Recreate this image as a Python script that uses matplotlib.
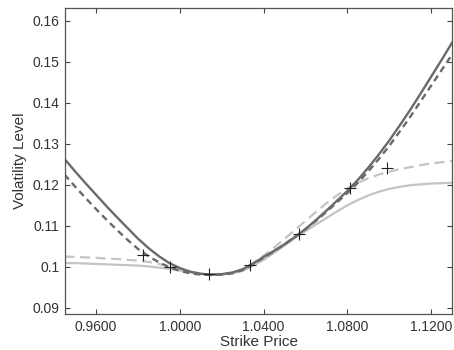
import matplotlib
matplotlib.use("Agg")
import matplotlib.pyplot as plt

plt.rcParams['font.family'] = ['Liberation Sans', 'DejaVu Sans']

# strike grid and curve values
strikes = [0.945, 0.950, 0.955, 0.960, 0.965, 0.970, 0.975, 0.980, 0.985, 0.990,
           0.995, 1.000, 1.005, 1.010, 1.015, 1.020, 1.025, 1.030, 1.035, 1.040,
           1.045, 1.050, 1.055, 1.060, 1.065, 1.070, 1.075, 1.080, 1.085, 1.090,
           1.095, 1.100, 1.105, 1.110, 1.115, 1.120, 1.125, 1.130]

dark_solid = [0.1263, 0.1233, 0.1204, 0.1176, 0.1148, 0.1121, 0.1095, 0.1069, 0.1046, 0.1026,
              0.1009, 0.0997, 0.0988, 0.0983, 0.0981, 0.0982, 0.0986, 0.0994, 0.1008, 0.1024,
              0.1039, 0.1055, 0.1073, 0.1092, 0.1114, 0.1137, 0.1161, 0.1185, 0.1212, 0.1242,
              0.1274, 0.1308, 0.1345, 0.1383, 0.1423, 0.1464, 0.1505, 0.1547]

dark_dashed = [0.1225, 0.1196, 0.1168, 0.1141, 0.1115, 0.1090, 0.1066, 0.1044, 0.1026, 0.1011,
               0.0999, 0.0990, 0.0984, 0.0981, 0.0980, 0.0981, 0.0984, 0.0992, 0.1006, 0.1022,
               0.1038, 0.1055, 0.1073, 0.1092, 0.1112, 0.1134, 0.1157, 0.1180, 0.1205, 0.1233,
               0.1263, 0.1295, 0.1330, 0.1366, 0.1404, 0.1442, 0.1480, 0.1518]

light_solid = [0.1009, 0.1009, 0.1008, 0.1007, 0.1006, 0.1005, 0.1004, 0.1003, 0.1001, 0.0998,
               0.0995, 0.0991, 0.0987, 0.0983, 0.0981, 0.0981, 0.0984, 0.0990, 0.1003, 0.1017,
               0.1034, 0.1052, 0.1070, 0.1087, 0.1103, 0.1119, 0.1135, 0.1150, 0.1163, 0.1174,
               0.1183, 0.1190, 0.1195, 0.1199, 0.1201, 0.1203, 0.1204, 0.1205]

light_dashed = [0.1025, 0.1024, 0.1023, 0.1022, 0.1020, 0.1019, 0.1017, 0.1015, 0.1012, 0.1007,
                0.1001, 0.0995, 0.0988, 0.0983, 0.0980, 0.0981, 0.0985, 0.0993, 0.1009, 0.1027,
                0.1047, 0.1068, 0.1090, 0.1112, 0.1134, 0.1155, 0.1174, 0.1191, 0.1205, 0.1216,
                0.1225, 0.1232, 0.1238, 0.1243, 0.1248, 0.1252, 0.1255, 0.1258]

# market quotes (+ markers)
quote_strikes = [0.9826, 0.9954, 1.0140, 1.0336, 1.0567, 1.0814, 1.0991]
quote_vols = [0.1028, 0.1000, 0.0982, 0.1005, 0.1081, 0.1191, 0.1241]

xticks = [0.96, 1.00, 1.04, 1.08, 1.12]
yticks = [0.09, 0.10, 0.11, 0.12, 0.13, 0.14, 0.15, 0.16]
ytick_labels = ['0.09', '0.1', '0.11', '0.12', '0.13', '0.14', '0.15', '0.16']

fig = plt.figure(figsize=(4.54, 3.50), dpi=100)
ax = fig.add_axes([0.143, 0.103, 0.853, 0.874])

dark = '#6a6a6a'
light = '#c4c4c4'
ax.plot(strikes, light_solid, color=light, lw=1.6)
ax.plot(strikes, light_dashed, color=light, lw=1.6, dashes=(4.5, 2.5))
ax.plot(strikes, dark_solid, color=dark, lw=1.7)
ax.plot(strikes, dark_dashed, color=dark, lw=1.7, dashes=(2.8, 1.9))
ax.plot(quote_strikes, quote_vols, linestyle='none', marker='+', color='#222222',
        markersize=9, markeredgewidth=0.8)

ax.set_xlim(0.9452, 1.1300)
ax.set_ylim(0.0885, 0.1631)
ax.set_xticks(xticks)
ax.set_xticklabels([f"{t:.4f}" for t in xticks])
ax.set_yticks(yticks)
ax.set_yticklabels(ytick_labels)

ax.tick_params(direction='in', length=3.5, width=0.8, top=True, right=True,
               labelsize=10, pad=4, color='#444444', labelcolor='#333333')
for s in ax.spines.values():
    s.set_color('#555555')
    s.set_linewidth(0.9)

ax.set_xlabel("Strike Price", fontsize=11, color='#333333', labelpad=1)
ax.set_ylabel("Volatility Level", fontsize=11, color='#333333', labelpad=4)

fig.savefig("out.png", dpi=100)
